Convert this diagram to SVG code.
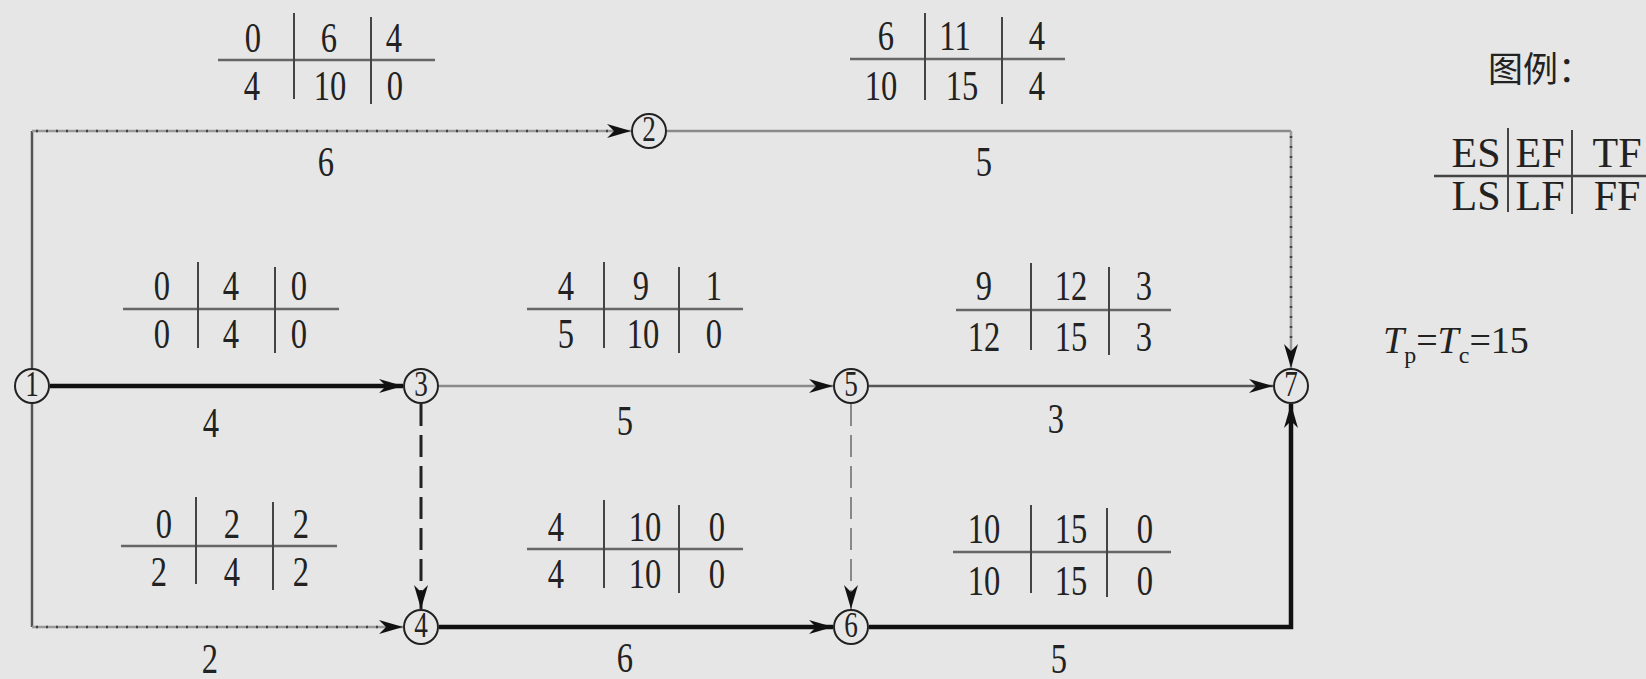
<svg xmlns="http://www.w3.org/2000/svg" width="1646" height="679" viewBox="0 0 1646 679">
<style>
.t{font-family:"Liberation Serif","Times New Roman",serif;font-size:37px;fill:#222;text-anchor:middle}
.lg{font-family:"Liberation Serif","Times New Roman",serif;font-size:42px;fill:#222;text-anchor:middle}
.hl{stroke:#666;stroke-width:2.5;fill:none}
.vl{stroke:#444;stroke-width:2;fill:none}
.nc{fill:none;stroke:#222;stroke-width:2}
.nt{font-family:"Liberation Serif","Times New Roman",serif;font-size:32px;fill:#222;text-anchor:middle}
.thick{stroke:#111;stroke-width:4.5;fill:none}
.solid{stroke:#555;stroke-width:2.5;fill:none}
.grey{stroke:#8a8a8a;stroke-width:2.5;fill:none}
.dotbase{stroke:#9a9a9a;stroke-width:2.5;fill:none}
.dotover{stroke:#444;stroke-width:2.5;fill:none;stroke-dasharray:2 8}
.dash1{stroke:#222;stroke-width:3;fill:none;stroke-dasharray:22 9}
.dash2{stroke:#888;stroke-width:2;fill:none;stroke-dasharray:22 9}
</style>
<defs>
<marker id="ah" viewBox="-26 -8 28 16" markerWidth="28" markerHeight="16" refX="0" refY="0" orient="auto" markerUnits="userSpaceOnUse">
<path d="M0,0 L-24,-7 L-17,0 L-24,7 Z" fill="#111"/>
</marker>
</defs>
<rect width="1646" height="679" fill="#e6e6e6"/>

<g id="connectors">
<path class="solid" d="M32,368 V131"/>
<path class="dotbase" d="M32,131 H631" marker-end="url(#ah)"/>
<path class="dotover" d="M36,131 H610"/>
<path class="grey" d="M667,131 H1291"/>
<path class="dotbase" d="M1291,131 V368" marker-end="url(#ah)"/>
<path class="dotover" d="M1291,136 V345"/>
<path class="thick" d="M50,386 H403" marker-end="url(#ah)"/>
<path class="grey" d="M439,386 H833" marker-end="url(#ah)"/>
<path class="solid" d="M869,386 H1273" marker-end="url(#ah)"/>
<path class="dash1" d="M421,404 V609" marker-end="url(#ah)"/>
<path class="dash2" d="M851,404 V609" marker-end="url(#ah)"/>
<path class="solid" d="M32,403 V627"/>
<path class="dotbase" d="M32,627 H403" marker-end="url(#ah)"/>
<path class="dotover" d="M36,627 H382"/>
<path class="thick" d="M439,627 H833" marker-end="url(#ah)"/>
<path class="thick" d="M869,627 H1291 V404" marker-end="url(#ah)"/>
</g>

<g id="node1"><circle class="nc" cx="32" cy="386" r="17"/><text class="nt" transform="translate(32,396) scale(0.85,1.1)">1</text></g>
<g id="node2"><circle class="nc" cx="649" cy="131" r="17"/><text class="nt" transform="translate(649,141) scale(0.85,1.1)">2</text></g>
<g id="node3"><circle class="nc" cx="421" cy="386" r="17"/><text class="nt" transform="translate(421,396) scale(0.85,1.1)">3</text></g>
<g id="node4"><circle class="nc" cx="421" cy="627" r="17"/><text class="nt" transform="translate(421,637) scale(0.85,1.1)">4</text></g>
<g id="node5"><circle class="nc" cx="851" cy="386" r="17"/><text class="nt" transform="translate(851,396) scale(0.85,1.1)">5</text></g>
<g id="node6"><circle class="nc" cx="851" cy="627" r="17"/><text class="nt" transform="translate(851,637) scale(0.85,1.1)">6</text></g>
<g id="node7"><circle class="nc" cx="1291" cy="386" r="17"/><text class="nt" transform="translate(1291,396) scale(0.85,1.1)">7</text></g>

<g id="table12">
<path class="hl" d="M218,60 H435"/>
<path class="vl" d="M294,13 V99 M371,17 V104"/>
<text class="t" transform="translate(253,52) scale(0.88,1.12)">0</text>
<text class="t" transform="translate(329,52) scale(0.88,1.12)">6</text>
<text class="t" transform="translate(394,52) scale(0.88,1.12)">4</text>
<text class="t" transform="translate(252,100) scale(0.88,1.12)">4</text>
<text class="t" transform="translate(330,100) scale(0.88,1.12)">10</text>
<text class="t" transform="translate(395,100) scale(0.88,1.12)">0</text>
<text class="t" transform="translate(326,176) scale(0.88,1.12)">6</text>
</g>

<g id="table27">
<path class="hl" d="M850,59 H1065"/>
<path class="vl" d="M925,13 V100 M1002,17 V104"/>
<text class="t" transform="translate(886,50) scale(0.88,1.12)">6</text>
<text class="t" transform="translate(955,50) scale(0.88,1.12)">11</text>
<text class="t" transform="translate(1037,50) scale(0.88,1.12)">4</text>
<text class="t" transform="translate(881,100) scale(0.88,1.12)">10</text>
<text class="t" transform="translate(962,100) scale(0.88,1.12)">15</text>
<text class="t" transform="translate(1037,100) scale(0.88,1.12)">4</text>
<text class="t" transform="translate(984,176) scale(0.88,1.12)">5</text>
</g>

<g id="table13">
<path class="hl" d="M123,309 H339"/>
<path class="vl" d="M198,262 V348 M275,267 V353"/>
<text class="t" transform="translate(162,300) scale(0.88,1.12)">0</text>
<text class="t" transform="translate(231,300) scale(0.88,1.12)">4</text>
<text class="t" transform="translate(299,300) scale(0.88,1.12)">0</text>
<text class="t" transform="translate(162,348) scale(0.88,1.12)">0</text>
<text class="t" transform="translate(231,348) scale(0.88,1.12)">4</text>
<text class="t" transform="translate(299,348) scale(0.88,1.12)">0</text>
<text class="t" transform="translate(211,437) scale(0.88,1.12)">4</text>
</g>

<g id="table35">
<path class="hl" d="M527,309 H743"/>
<path class="vl" d="M604,262 V348 M679,267 V353"/>
<text class="t" transform="translate(566,300) scale(0.88,1.12)">4</text>
<text class="t" transform="translate(641,300) scale(0.88,1.12)">9</text>
<text class="t" transform="translate(714,300) scale(0.88,1.12)">1</text>
<text class="t" transform="translate(566,348) scale(0.88,1.12)">5</text>
<text class="t" transform="translate(643,348) scale(0.88,1.12)">10</text>
<text class="t" transform="translate(714,348) scale(0.88,1.12)">0</text>
<text class="t" transform="translate(625,435) scale(0.88,1.12)">5</text>
</g>

<g id="table57">
<path class="hl" d="M956,310 H1171"/>
<path class="vl" d="M1031,263 V350 M1109,267 V355"/>
<text class="t" transform="translate(984,300) scale(0.88,1.12)">9</text>
<text class="t" transform="translate(1071,300) scale(0.88,1.12)">12</text>
<text class="t" transform="translate(1144,300) scale(0.88,1.12)">3</text>
<text class="t" transform="translate(984,351) scale(0.88,1.12)">12</text>
<text class="t" transform="translate(1071,351) scale(0.88,1.12)">15</text>
<text class="t" transform="translate(1144,351) scale(0.88,1.12)">3</text>
<text class="t" transform="translate(1056,433) scale(0.88,1.12)">3</text>
</g>

<g id="table14">
<path class="hl" d="M121,546 H337"/>
<path class="vl" d="M196,497 V584 M273,502 V590"/>
<text class="t" transform="translate(164,538) scale(0.88,1.12)">0</text>
<text class="t" transform="translate(232,538) scale(0.88,1.12)">2</text>
<text class="t" transform="translate(301,538) scale(0.88,1.12)">2</text>
<text class="t" transform="translate(159,586) scale(0.88,1.12)">2</text>
<text class="t" transform="translate(232,586) scale(0.88,1.12)">4</text>
<text class="t" transform="translate(301,586) scale(0.88,1.12)">2</text>
<text class="t" transform="translate(210,673) scale(0.88,1.12)">2</text>
</g>

<g id="table46">
<path class="hl" d="M527,549 H743"/>
<path class="vl" d="M604,500 V588 M679,505 V593"/>
<text class="t" transform="translate(556,541) scale(0.88,1.12)">4</text>
<text class="t" transform="translate(645,541) scale(0.88,1.12)">10</text>
<text class="t" transform="translate(717,541) scale(0.88,1.12)">0</text>
<text class="t" transform="translate(556,588) scale(0.88,1.12)">4</text>
<text class="t" transform="translate(645,588) scale(0.88,1.12)">10</text>
<text class="t" transform="translate(717,588) scale(0.88,1.12)">0</text>
<text class="t" transform="translate(625,672) scale(0.88,1.12)">6</text>
</g>

<g id="table67">
<path class="hl" d="M953,552 H1171"/>
<path class="vl" d="M1031,505 V593 M1107,508 V597"/>
<text class="t" transform="translate(984,543) scale(0.88,1.12)">10</text>
<text class="t" transform="translate(1071,543) scale(0.88,1.12)">15</text>
<text class="t" transform="translate(1145,543) scale(0.88,1.12)">0</text>
<text class="t" transform="translate(984,595) scale(0.88,1.12)">10</text>
<text class="t" transform="translate(1071,595) scale(0.88,1.12)">15</text>
<text class="t" transform="translate(1145,595) scale(0.88,1.12)">0</text>
<text class="t" transform="translate(1059,673) scale(0.88,1.12)">5</text>
</g>

<g id="legend">
<text x="1488" y="82" font-family="'Noto Sans CJK SC', sans-serif" font-size="35" fill="#222">图例：</text>
<path stroke="#444" stroke-width="2.5" d="M1434,176 H1646"/>
<path class="vl" d="M1508,128 V212 M1572,130 V214"/>
<text class="lg" x="1476" y="167">ES</text><text class="lg" x="1540" y="167">EF</text><text class="lg" x="1617" y="167">TF</text>
<text class="lg" x="1476" y="210">LS</text><text class="lg" x="1540" y="210">LF</text><text class="lg" x="1617" y="210">FF</text>
</g>

<g id="duration">
<text x="1383" y="353" font-family="'Liberation Serif', serif" font-size="38" fill="#222"><tspan font-style="italic">T</tspan><tspan font-size="24" dy="10">p</tspan><tspan dy="-10">=</tspan><tspan font-style="italic">T</tspan><tspan font-size="24" dy="10">c</tspan><tspan dy="-10">=15</tspan></text>
</g>
</svg>
